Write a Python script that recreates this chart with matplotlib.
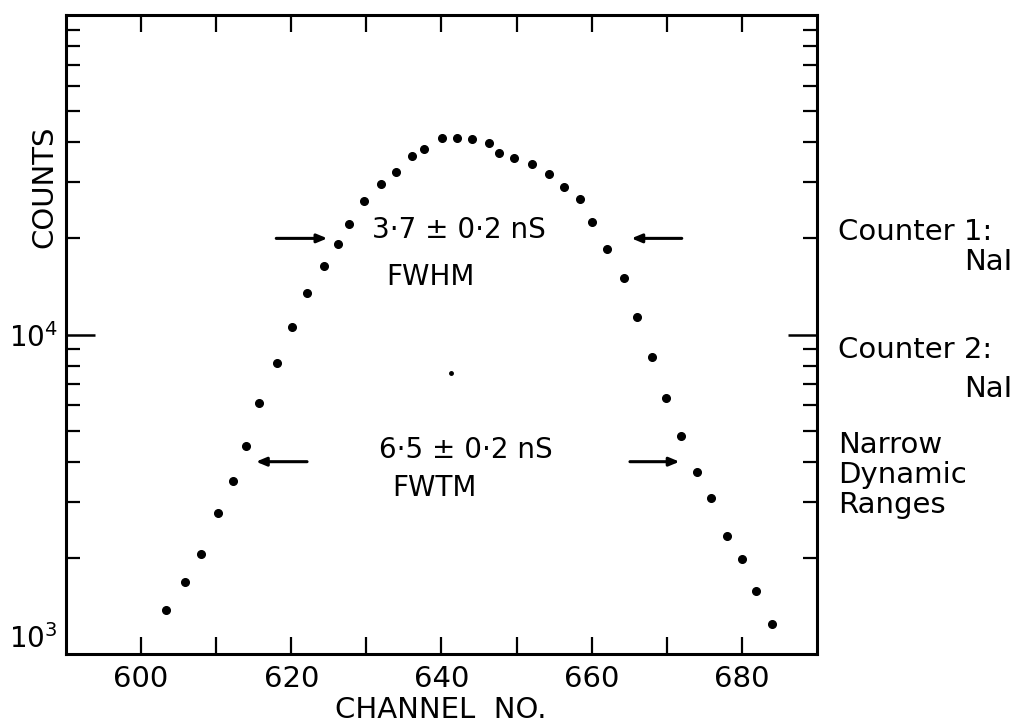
import matplotlib
matplotlib.use("Agg")
import matplotlib.pyplot as plt

channels = [603.3, 605.9, 608.0, 610.2, 612.2, 614.0, 615.7, 618.1, 620.1, 622.1,
            624.3, 626.2, 627.7, 629.7, 632.0, 634.0, 636.1, 637.7, 640.1, 642.1,
            644.1, 646.3, 647.6, 649.7, 652.0, 654.3, 656.3, 658.4, 660.1, 662.0,
            664.3, 666.1, 668.1, 669.9, 671.9, 674.0, 675.9, 678.0, 680.0, 681.9, 684.0]
counts = [1373, 1680, 2056, 2763, 3479, 4478, 6105, 8143, 10556, 13490,
          16385, 19200, 22180, 26170, 29580, 32260, 36210, 38070, 41210, 41210,
          40920, 39760, 37000, 35680, 34170, 31790, 28950, 26560, 22500, 18520,
          15030, 11340, 8505, 6329, 4813, 3712, 3078, 2341, 1983, 1575, 1241]
centroid_mark = (641.3, 7590)

x_ticks = [600, 610, 620, 630, 640, 650, 660, 670, 680]
x_ticklabels = ["600", "", "620", "", "640", "", "660", "", "680"]
y_ticks = [1e3, 1e4]
y_ticklabels = [r"$10^3$", r"$10^4$"]

fwhm_level = 20000
fwtm_level = 4000

FS = 20
FS_T = 21
fig = plt.figure(figsize=(10.25, 7.28), dpi=100)
ax = fig.add_axes([0.0644, 0.1016, 0.7326, 0.8777])
ax.set_yscale("log")
ax.set_xlim(590, 690)
ax.set_ylim(1e3, 1e5)

ax.plot(channels, counts, "o", color="black", ms=5.5, ls="none")
ax.plot([centroid_mark[0]], [centroid_mark[1]], "o", color="black", ms=2.5)

for s in ax.spines.values():
    s.set_linewidth(2.2)

ax.set_xticks(x_ticks)
ax.set_xticklabels(x_ticklabels, fontsize=FS_T)
ax.set_yticks(y_ticks)
ax.set_yticklabels(y_ticklabels, fontsize=FS)
ax.get_yticklabels()[0].set_verticalalignment("bottom")
ax.tick_params(axis="x", which="major", direction="in", length=12, width=1.6,
               top=True, bottom=True, pad=8)
ax.tick_params(axis="y", which="major", direction="in", length=21, width=1.8,
               left=True, right=True, pad=6)
ax.tick_params(axis="y", which="minor", direction="in", length=10, width=1.6,
               left=True, right=True, labelleft=False)
ax.yaxis.set_minor_formatter(matplotlib.ticker.NullFormatter())

arrow_kw = dict(arrowstyle="-|>,head_length=0.6,head_width=0.25", color="black", lw=2.2,
                shrinkA=0, shrinkB=0)
ax.annotate("", xy=(624.8, fwhm_level), xytext=(618.0, fwhm_level), arrowprops=arrow_kw)
ax.annotate("", xy=(665.3, fwhm_level), xytext=(672.0, fwhm_level), arrowprops=arrow_kw)
ax.annotate("", xy=(615.3, fwtm_level), xytext=(622.1, fwtm_level), arrowprops=arrow_kw)
ax.annotate("", xy=(671.7, fwtm_level), xytext=(665.1, fwtm_level), arrowprops=arrow_kw)

ax.text(630.7, 21200, "3·7 ± 0·2 nS", fontsize=FS, ha="left", va="center")
ax.text(632.7, 15100, "FWHM", fontsize=FS, ha="left", va="center")
ax.text(631.7, 4350, "6·5 ± 0·2 nS", fontsize=FS, ha="left", va="center")
ax.text(633.5, 3310, "FWTM", fontsize=FS, ha="left", va="center")

fig.text(44 / 1025, 1 - 187 / 728, "COUNTS", rotation=90, fontsize=FS_T,
         ha="center", va="center")
fig.text(441 / 1025, 1 - 710 / 728, "CHANNEL  NO.", fontsize=FS_T,
         ha="center", va="center")

rx = 838 / 1025
FS_R = 21
fig.text(rx, 1 - 232 / 728, "Counter 1:", fontsize=FS_R, ha="left", va="center")
fig.text(1012 / 1025, 1 - 262 / 728, "NaI", fontsize=FS_R, ha="right", va="center")
fig.text(rx, 1 - 350 / 728, "Counter 2:", fontsize=FS_R, ha="left", va="center")
fig.text(1012 / 1025, 1 - 389 / 728, "NaI", fontsize=FS_R, ha="right", va="center")
fig.text(rx, 1 - 445 / 728, "Narrow", fontsize=FS_R, ha="left", va="center")
fig.text(rx, 1 - 475 / 728, "Dynamic", fontsize=FS_R, ha="left", va="center")
fig.text(rx, 1 - 505 / 728, "Ranges", fontsize=FS_R, ha="left", va="center")

fig.savefig("out.png", dpi=100)
